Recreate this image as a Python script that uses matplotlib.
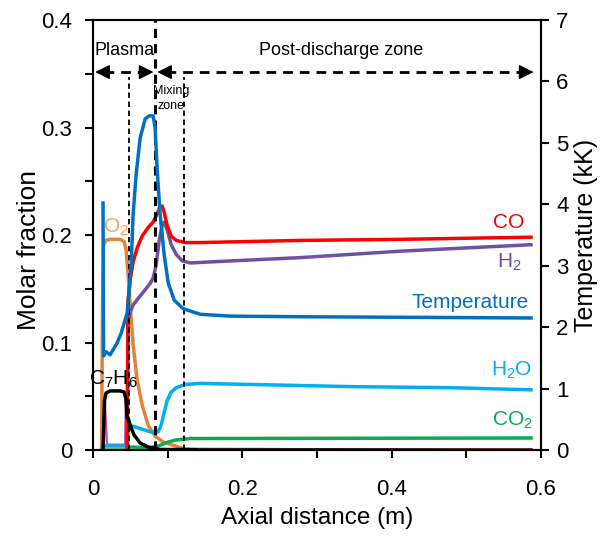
import matplotlib
matplotlib.use("Agg")
import matplotlib.pyplot as plt
from matplotlib.ticker import MultipleLocator, FuncFormatter

plt.rcParams['font.family'] = ['Liberation Sans', 'DejaVu Sans']
plt.rcParams['mathtext.fontset'] = 'custom'
plt.rcParams['mathtext.rm'] = 'Liberation Sans'
plt.rcParams['mathtext.it'] = 'Liberation Sans'

# ── data ──
# temperature, kK (right axis)
t_x = [0.0134, 0.0141, 0.0174, 0.0228, 0.0268, 0.0322, 0.0376, 0.0457, 0.0483,
       0.0510, 0.0537, 0.0577, 0.0631, 0.0698, 0.0752, 0.0805, 0.0832, 0.0859,
       0.0899, 0.0953, 0.1007, 0.1087, 0.1208, 0.1436, 0.1840, 0.2779, 0.5866]
t_k = [4.02, 1.53, 1.60, 1.55, 1.63, 1.74, 1.90, 2.23, 2.57,
       3.00, 3.83, 4.48, 5.08, 5.39, 5.44, 5.44, 5.24, 4.57,
       3.83, 3.18, 2.72, 2.44, 2.30, 2.21, 2.18, 2.17, 2.15]

o2_x = [0.0114, 0.0128, 0.0141, 0.0174, 0.0228, 0.0362, 0.0416, 0.0443, 0.0470,
        0.0497, 0.0537, 0.0591, 0.0658, 0.0738, 0.0832, 0.0940, 0.1060, 0.1235,
        0.1436, 0.5866]
o2_y = [0.0, 0.140, 0.191, 0.195, 0.196, 0.196, 0.194, 0.186, 0.163,
        0.135, 0.098, 0.065, 0.042, 0.023, 0.013, 0.0074, 0.0047, 0.0009,
        0.0, 0.0]

c7h6_x = [0.0134, 0.0154, 0.0174, 0.0228, 0.0362, 0.0416, 0.0443, 0.0456, 0.0470,
          0.0497, 0.0550, 0.0631, 0.0738, 0.0899, 0.5866]
c7h6_y = [0.0, 0.046, 0.053, 0.055, 0.055, 0.054, 0.047, 0.030, 0.030,
          0.023, 0.014, 0.0065, 0.0028, 0.0005, 0.0]

pink_x = [0.0128, 0.0154, 0.0188, 0.0430, 0.0440, 0.0450]
pink_y = [0.0, 0.050, 0.005, 0.005, 0.050, 0.0]

h2o_x = [0.0114, 0.0128, 0.0416, 0.0463, 0.0470, 0.0497, 0.0631, 0.0765, 0.0832,
         0.0872, 0.0912, 0.0953, 0.0993, 0.1047, 0.1114, 0.1235, 0.1436, 0.2107,
         0.3450, 0.4792, 0.5866]
h2o_y = [0.0, 0.0037, 0.0037, 0.0037, 0.024, 0.023, 0.020, 0.017, 0.016,
         0.017, 0.023, 0.035, 0.046, 0.054, 0.058, 0.061, 0.062, 0.061,
         0.059, 0.058, 0.056]

co2_x = [0.0114, 0.0470, 0.0483, 0.0765, 0.0872, 0.0966, 0.1101, 0.1302, 0.5866]
co2_y = [0.0, 0.0, 0.0028, 0.0023, 0.0037, 0.0065, 0.0093, 0.0107, 0.0112]

co_x = [0.0456, 0.0470, 0.0497, 0.0537, 0.0591, 0.0658, 0.0738, 0.0805, 0.0859,
        0.0899, 0.0926, 0.0953, 0.0993, 0.1047, 0.1114, 0.1235, 0.1436, 0.2779,
        0.4121, 0.5866]
co_y = [0.0, 0.140, 0.158, 0.175, 0.188, 0.199, 0.207, 0.212, 0.220,
        0.226, 0.227, 0.221, 0.209, 0.199, 0.195, 0.193, 0.193, 0.195,
        0.196, 0.198]

h2_x = [0.0456, 0.0470, 0.0497, 0.0537, 0.0604, 0.0698, 0.0765, 0.0805, 0.0845,
        0.0886, 0.0926, 0.0953, 0.0993, 0.1047, 0.1114, 0.1195, 0.1302, 0.1570,
        0.2779, 0.4121, 0.5866]
h2_y = [0.0, 0.121, 0.128, 0.135, 0.141, 0.149, 0.155, 0.160, 0.172,
        0.195, 0.209, 0.212, 0.205, 0.191, 0.182, 0.176, 0.174, 0.175,
        0.179, 0.185, 0.191]

fig = plt.figure(figsize=(6.06, 5.36), dpi=100)
ax = fig.add_axes([0.1535, 0.1604, 0.7393, 0.8022])
ax2 = ax.twinx()

lw = 2.5
ax.plot(o2_x, o2_y, color='#E0843C', lw=lw, zorder=3)
ax.plot(pink_x, pink_y, color='#C8509A', lw=1.6, zorder=3)
ax.plot(h2o_x, h2o_y, color='#00B0F0', lw=lw, zorder=3)
ax.plot(co2_x, co2_y, color='#00B050', lw=lw, zorder=3)
ax.plot(c7h6_x, c7h6_y, color='black', lw=lw, zorder=4)
ax.plot(h2_x, h2_y, color='#7050A0', lw=lw, zorder=3)
ax.plot(co_x, co_y, color='#FF0000', lw=lw, zorder=3)
ax.plot(o2_x[-2:], o2_y[-2:], color='#E0843C', lw=lw, zorder=5)
ax2.plot(t_x, t_k, color='#0070C0', lw=lw, zorder=3)

ax.set_xlim(0, 0.6)
ax.set_ylim(0, 0.4)
ax2.set_ylim(0, 7)

# zone boundaries
yz = 0.347
ax.plot([0.048, 0.048], [0, yz], color='k', lw=1.3, ls=(0, (3, 2)), zorder=6)
ax.plot([0.083, 0.083], [0, 0.4], color='k', lw=2.2, ls=(0, (3, 2)), zorder=6)
ax.plot([0.122, 0.122], [0, yz], color='k', lw=1.3, ls=(0, (3, 2)), zorder=6)

ya = 0.3516
def arrow_seg(x0, x1):
    ax.plot([x0 + 0.012, x1 - 0.012], [ya, ya], color='k', lw=2, ls=(0, (3.5, 2.5)), zorder=6)
    hp = dict(arrowstyle='-|>,head_length=0.9,head_width=0.45', color='k', lw=1,
              shrinkA=0, shrinkB=0)
    ax.annotate('', xy=(x0, ya), xytext=(x0 + 0.016, ya), arrowprops=hp, zorder=7)
    ax.annotate('', xy=(x1, ya), xytext=(x1 - 0.016, ya), arrowprops=hp, zorder=7)

arrow_seg(0.003, 0.081)
arrow_seg(0.086, 0.590)

ax.text(0.042, 0.372, 'Plasma', ha='center', va='center', fontsize=13)
ax.text(0.332, 0.372, 'Post-discharge zone', ha='center', va='center', fontsize=13)
ax.text(0.105, 0.327, 'Mixing\nzone', ha='center', va='center', fontsize=9,
        linespacing=1.3)

ax.text(0.557, 0.212, 'CO', color='#FF0000', ha='center', va='center', fontsize=15)
ax.text(0.557, 0.175, 'H$_2$', color='#7050A0', ha='center', va='center', fontsize=15)
ax.text(0.584, 0.137, 'Temperature', color='#0070C0', ha='right', va='center', fontsize=15)
ax.text(0.560, 0.074, 'H$_2$O', color='#00B0F0', ha='center', va='center', fontsize=15)
ax.text(0.562, 0.028, 'CO$_2$', color='#00B050', ha='center', va='center', fontsize=15)
ax.text(0.031, 0.207, 'O$_2$', color='#F4A15A', ha='center', va='center', fontsize=15)
ax.text(0.027, 0.066, 'C$_7$H$_6$', color='black', ha='center', va='center', fontsize=15)

# axes styling
for a in (ax, ax2):
    for s in a.spines.values():
        s.set_linewidth(1.5)
ax.xaxis.set_major_locator(MultipleLocator(0.2))
ax.xaxis.set_minor_locator(MultipleLocator(0.1))
ax.yaxis.set_major_locator(MultipleLocator(0.1))
ax.yaxis.set_minor_locator(MultipleLocator(0.05))
ax2.yaxis.set_major_locator(MultipleLocator(1))
fmt = FuncFormatter(lambda v, p: '%g' % round(v, 3))
ax.xaxis.set_major_formatter(fmt)
ax.yaxis.set_major_formatter(fmt)
ax.tick_params(axis='x', which='both', direction='out', length=6, width=1.5,
               labelsize=16, pad=15)
ax.tick_params(axis='y', which='both', direction='out', length=6, width=1.5,
               labelsize=16, pad=9)
ax2.tick_params(axis='y', which='both', direction='out', length=6, width=1.5,
                labelsize=16, pad=5)

ax.set_xlabel('Axial distance (m)', fontsize=17.5, labelpad=5)
ax.set_ylabel('Molar fraction', fontsize=19, labelpad=0)
ax.yaxis.label.set_y(0.465)
ax2.set_ylabel('Temperature (kK)', fontsize=18, labelpad=4)

fig.savefig('out.png', dpi=100)
